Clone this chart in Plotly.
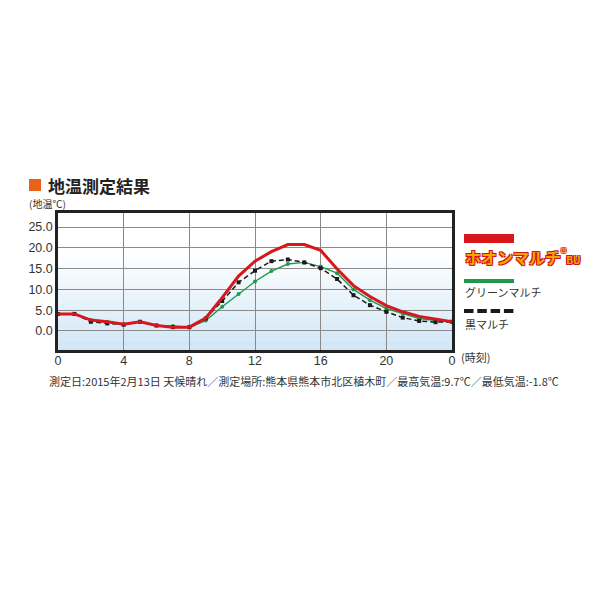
import plotly.graph_objects as go

hours = list(range(0, 25))
hoon_bu = [4.1, 4.1, 2.6, 2.2, 1.6, 2.2, 1.3, 0.9, 0.9, 3.1, 8.0, 13.2, 16.8, 19.1, 20.8, 20.8, 19.4, 14.9, 10.9, 8.3, 6.1, 4.6, 3.5, 2.8, 2.2]
green = [4.1, 4.1, 2.6, 2.2, 1.6, 2.2, 1.3, 1.2, 0.9, 2.5, 5.8, 8.9, 11.9, 14.4, 16.1, 16.5, 15.5, 13.9, 10.0, 7.4, 5.4, 4.2, 3.0, 2.5, 2.2]
black = [4.1, 4.1, 2.2, 1.8, 1.5, 2.2, 1.3, 0.9, 0.9, 3.0, 7.2, 11.7, 14.5, 16.8, 17.2, 16.5, 15.1, 12.5, 8.6, 6.2, 4.6, 3.2, 2.4, 2.1, 2.2]

x_tickvals = [0, 4, 8, 12, 16, 20, 24]
x_ticktext = ["0", "4", "8", "12", "16", "20", "0"]
y_tickvals = [0, 5, 10, 15, 20, 25]
y_ticktext = ["0.0", "5.0", "10.0", "15.0", "20.0", "25.0"]

series_names = ["ホオンマルチBU", "グリーンマルチ", "黒マルチ"]
title_text = "地温測定結果"
unit_text = "(地温℃)"
time_text = "(時刻)"
note_text = "測定日:2015年2月13日 天候晴れ／測定場所:熊本県熊本市北区植木町／最高気温:9.7℃／最低気温:-1.8℃"

OFF = 8  # browser default body margin
W, H = 600 - OFF, 600 - OFF
L, T = 58 - OFF, 213 - OFF
R, B = W - (452 - OFF), H - (350 - OFF)
PW, PH = W - L - R, H - T - B


def px(x):
    return (x - OFF - L) / PW


def py(y):
    return (H - B - (y - OFF)) / PH


RED = "#d7161d"
GREEN = "#1f9a4c"
BLACK = "#1a1a1a"
JP = "Noto Sans CJK JP"

fig = go.Figure()
fig.add_trace(go.Scatter(x=hours, y=green, mode="lines+markers", name=series_names[1],
                         line=dict(color=GREEN, width=1.4), marker=dict(size=4, color=GREEN)))
fig.add_trace(go.Scatter(x=hours, y=black, mode="lines+markers", name=series_names[2],
                         line=dict(color=BLACK, width=1.5, dash="5px,3px"),
                         marker=dict(size=4, color=BLACK, symbol="square")))
fig.add_trace(go.Scatter(x=hours, y=hoon_bu, mode="lines", name=series_names[0],
                         line=dict(color=RED, width=3)))

shapes = []
N = 40
c_bot = (208, 230, 246)
c_top = (255, 255, 255)
for i in range(N):
    t = (i + 0.5) / N
    f = min(1.0, t / 0.72)
    c = tuple(int(round(c_bot[k] + (c_top[k] - c_bot[k]) * f)) for k in range(3))
    shapes.append(dict(type="rect", xref="x domain", yref="y domain", x0=0, x1=1,
                       y0=i / N, y1=(i + 1) / N + 0.002, fillcolor="rgb(%d,%d,%d)" % c,
                       line=dict(width=0), layer="below"))

shapes.append(dict(type="rect", xref="paper", yref="paper", x0=px(29), x1=px(41), y0=py(191), y1=py(179),
                   fillcolor="#e8621a", line=dict(width=0)))
shapes.append(dict(type="rect", xref="paper", yref="paper", x0=px(464), x1=px(514), y0=py(243), y1=py(234),
                   fillcolor=RED, line=dict(width=0)))
shapes.append(dict(type="rect", xref="paper", yref="paper", x0=px(464), x1=px(514), y0=py(283), y1=py(279),
                   fillcolor=GREEN, line=dict(width=0)))
for k in range(4):
    x0 = 464 + k * 13.3
    shapes.append(dict(type="rect", xref="paper", yref="paper", x0=px(x0), x1=px(x0 + 9.5), y0=py(313), y1=py(309),
                       fillcolor=BLACK, line=dict(width=0)))

annotations = [
    dict(text="<b>" + title_text + "</b>", x=px(46), y=py(185), xref="paper", yref="paper",
         xanchor="left", yanchor="middle", showarrow=False, font=dict(family=JP, size=17, color="#222")),
    dict(text=unit_text, x=px(27), y=py(203), xref="paper", yref="paper",
         xanchor="left", yanchor="middle", showarrow=False, font=dict(family=JP, size=10, color="#333")),
    dict(text=time_text, x=px(459), y=py(357), xref="paper", yref="paper",
         xanchor="left", yanchor="middle", showarrow=False, font=dict(family=JP, size=11, color="#333")),
    dict(text="<b>ホオンマルチ</b><sup>®</sup><b><span style='font-size:10px'>BU</span></b>",
         x=px(463), y=py(256), xref="paper", yref="paper",
         xanchor="left", yanchor="middle", showarrow=False,
         font=dict(family=JP, size=16, color="#f7a600",
                   shadow="1px 1px 0 #d0141a, -1px -1px 0 #d0141a, 1px -1px 0 #d0141a, -1px 1px 0 #d0141a")),
    dict(text=series_names[1], x=px(463), y=py(292), xref="paper", yref="paper",
         xanchor="left", yanchor="middle", showarrow=False, font=dict(family=JP, size=11, color="#333")),
    dict(text=series_names[2], x=px(463), y=py(324), xref="paper", yref="paper",
         xanchor="left", yanchor="middle", showarrow=False, font=dict(family=JP, size=11, color="#333")),
    dict(text=note_text, x=px(47), y=py(381), xref="paper", yref="paper",
         xanchor="left", yanchor="middle", showarrow=False, font=dict(family=JP, size=11, color="#333")),
]

fig.update_layout(
    width=W, height=H, margin=dict(l=L, r=R, t=T, b=B),
    paper_bgcolor="white", plot_bgcolor="white", showlegend=False,
    shapes=shapes, annotations=annotations,
    xaxis=dict(range=[0, 24], tickvals=x_tickvals, ticktext=x_ticktext, showgrid=True,
               gridcolor="#8a8a8a", gridwidth=1.2, zeroline=False, showline=True, mirror=True,
               linecolor="#222", linewidth=2.5, ticks="", ticklen=0, ticklabelstandoff=-3,
               tickfont=dict(family="Liberation Sans", size=12.5, color="#333")),
    yaxis=dict(range=[-4.6, 28.4], tickvals=y_tickvals, ticktext=y_ticktext, showgrid=True,
               gridcolor="#8a8a8a", gridwidth=1.2, zeroline=False, showline=True, mirror=True,
               linecolor="#222", linewidth=2.5, ticks="", ticklen=0,
               tickfont=dict(family="Liberation Sans", size=12.5, color="#333")),
)

fig.write_html("out.html")
